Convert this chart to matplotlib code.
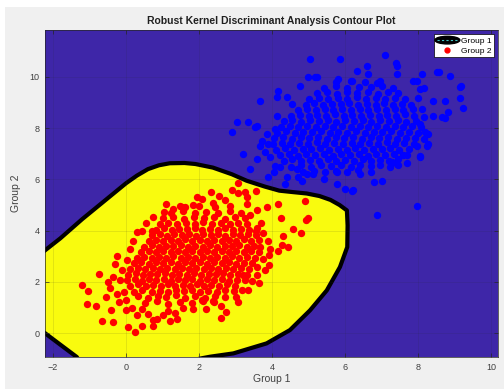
import numpy as np
import matplotlib.pyplot as plt
import matplotlib.patches as mpatches
from matplotlib.lines import Line2D
from matplotlib.legend_handler import HandlerPatch

plt.rcParams['font.family'] = ['Liberation Sans', 'DejaVu Sans']

# decision region boundary
bound_x = [-2.4, -2.22, -1.8, -1.2, -0.6, 0.0, 0.3, 0.6, 0.9, 1.2, 1.6, 1.9, 2.38, 2.9, 3.3,
           3.8, 4.2, 4.6, 4.95, 5.3, 5.6, 5.85, 6.05, 6.07, 6.06, 5.86, 5.5, 5.04, 4.49,
           3.85, 2.94, 2.3, 2.0, 1.6, -1.2, -1.35, -1.8, -2.22, -2.4]
bound_y = [3.02, 3.23, 3.7, 4.45, 5.15, 5.85, 6.15, 6.4, 6.55, 6.63, 6.64, 6.6, 6.46, 6.2, 5.95,
           5.72, 5.56, 5.5, 5.45, 5.35, 5.2, 5.0, 4.79, 4.2, 3.36, 2.58, 1.67, 0.89, 0.12,
           -0.4, -0.79, -0.92, -1.0, -1.3, -1.3, -0.93, -0.45, 0.0, 0.2]

# Group 2 (red) - dense part
red_core = [
    (0.52, 1.18), (0.86, 1.24), (1.15, 1.15), (1.47, 1.22), (1.8, 1.17), (2.1, 1.25), (2.42, 1.2),
    (0.33, 1.45), (0.6, 1.38), (0.88, 1.46), (1.1, 1.4), (1.36, 1.47), (1.62, 1.39), (1.9, 1.44),
    (2.15, 1.38), (2.43, 1.46), (2.7, 1.41),
    (0.22, 1.62), (0.45, 1.68), (0.7, 1.6), (0.92, 1.66), (1.15, 1.61), (1.36, 1.69), (1.58, 1.63),
    (1.8, 1.67), (2.02, 1.6), (2.25, 1.66), (2.48, 1.62), (2.72, 1.68), (2.96, 1.63),
    (0.12, 1.84), (0.33, 1.9), (0.55, 1.83), (0.74, 1.88), (0.95, 1.85), (1.14, 1.9), (1.34, 1.83),
    (1.55, 1.89), (1.74, 1.84), (1.94, 1.9), (2.14, 1.85), (2.34, 1.88), (2.55, 1.83), (2.76, 1.9),
    (2.98, 1.85),
    (0.02, 2.06), (0.24, 2.1), (0.44, 2.05), (0.63, 2.12), (0.83, 2.07), (1.03, 2.11), (1.22, 2.04),
    (1.42, 2.1), (1.62, 2.06), (1.82, 2.12), (2.02, 2.05), (2.22, 2.1), (2.42, 2.06), (2.62, 2.11),
    (2.83, 2.04), (3.05, 2.09), (3.26, 2.06),
    (0.05, 2.28), (0.26, 2.33), (0.46, 2.27), (0.66, 2.32), (0.86, 2.29), (1.06, 2.34), (1.26, 2.27),
    (1.46, 2.32), (1.66, 2.28), (1.86, 2.33), (2.06, 2.27), (2.26, 2.32), (2.46, 2.29), (2.66, 2.34),
    (2.86, 2.27), (3.07, 2.31), (3.3, 2.28),
    (0.12, 2.5), (0.33, 2.55), (0.53, 2.49), (0.73, 2.54), (0.93, 2.5), (1.13, 2.56), (1.33, 2.49),
    (1.53, 2.54), (1.73, 2.5), (1.93, 2.55), (2.13, 2.49), (2.33, 2.54), (2.53, 2.51), (2.73, 2.56),
    (2.93, 2.49), (3.14, 2.53), (3.38, 2.5),
    (0.22, 2.72), (0.42, 2.77), (0.62, 2.71), (0.82, 2.76), (1.02, 2.73), (1.22, 2.78), (1.42, 2.71),
    (1.62, 2.76), (1.82, 2.72), (2.02, 2.77), (2.22, 2.71), (2.42, 2.76), (2.62, 2.73), (2.82, 2.78),
    (3.02, 2.71), (3.22, 2.75), (3.45, 2.72),
    (0.3, 2.94), (0.5, 2.99), (0.7, 2.93), (0.9, 2.98), (1.1, 2.95), (1.3, 3.0), (1.5, 2.93),
    (1.7, 2.98), (1.9, 2.94), (2.1, 2.99), (2.3, 2.93), (2.5, 2.98), (2.7, 2.95), (2.9, 3.0),
    (3.1, 2.93), (3.3, 2.97), (3.52, 2.94),
    (0.42, 3.16), (0.62, 3.21), (0.82, 3.15), (1.02, 3.2), (1.22, 3.17), (1.42, 3.22), (1.62, 3.15),
    (1.82, 3.2), (2.02, 3.16), (2.22, 3.21), (2.42, 3.15), (2.62, 3.2), (2.82, 3.17), (3.02, 3.22),
    (3.22, 3.15), (3.42, 3.19), (3.64, 3.16),
    (0.5, 3.38), (0.7, 3.43), (0.9, 3.37), (1.1, 3.42), (1.3, 3.39), (1.5, 3.44), (1.7, 3.37),
    (1.9, 3.42), (2.1, 3.38), (2.3, 3.43), (2.5, 3.37), (2.7, 3.42), (2.9, 3.39), (3.1, 3.44),
    (3.3, 3.37), (3.5, 3.41), (3.68, 3.38),
    (0.62, 3.6), (0.82, 3.65), (1.02, 3.59), (1.22, 3.64), (1.42, 3.61), (1.62, 3.66), (1.82, 3.59),
    (2.02, 3.64), (2.22, 3.6), (2.42, 3.65), (2.62, 3.59), (2.82, 3.64), (3.02, 3.61), (3.22, 3.66),
    (3.42, 3.59), (3.65, 3.63),
    (0.72, 3.82), (0.92, 3.87), (1.12, 3.81), (1.32, 3.86), (1.52, 3.83), (1.72, 3.88), (1.92, 3.81),
    (2.12, 3.86), (2.32, 3.82), (2.52, 3.87), (2.72, 3.81), (2.92, 3.86), (3.12, 3.83), (3.33, 3.88),
    (3.56, 3.82),
    (0.82, 4.04), (1.04, 4.09), (1.25, 4.03), (1.46, 4.08), (1.67, 4.05), (1.88, 4.1), (2.09, 4.03),
    (2.3, 4.08), (2.51, 4.04), (2.72, 4.09), (2.93, 4.03), (3.14, 4.07), (3.36, 4.04), (3.58, 4.09),
    (0.92, 4.26), (1.16, 4.31), (1.4, 4.25), (1.64, 4.3), (1.88, 4.27), (2.12, 4.32), (2.36, 4.25),
    (2.6, 4.3), (2.84, 4.26), (3.08, 4.31), (3.32, 4.25),
    (1.02, 4.48), (1.3, 4.53), (1.58, 4.47), (1.86, 4.52), (2.14, 4.49), (2.42, 4.54), (2.7, 4.47),
    (2.98, 4.52), (3.26, 4.48),
    (1.22, 4.7), (1.55, 4.75), (1.88, 4.69), (2.2, 4.74), (2.52, 4.7), (2.84, 4.76), (3.16, 4.7),
    (1.62, 4.93), (2.0, 4.98), (2.45, 4.92), (2.85, 4.97),
]

# Group 2 (red) - sparse outer points
red_outer = [
    (-1.21, 1.87), (-1.06, 1.13), (-0.82, 1.05), (-0.74, 2.32), (-0.67, 0.48), (-0.35, 0.42),
    (-0.25, 3.0), (0.06, 0.25), (0.25, 0.05), (0.43, 0.28), (0.75, 0.27), (1.05, 4.72),
    (1.48, 4.98), (2.32, 5.5), (2.07, 5.24), (3.06, 5.85), (3.08, 1.22), (2.74, 0.83),
    (1.83, 0.93), (1.2, 0.48), (0.75, 0.5), (0.02, 2.84), (0.43, 4.0), (0.7, 4.0),
    (-1.03, 1.63), (-0.3, 2.7), (-0.35, 2.19), (-0.16, 2.06), (-0.25, 1.54), (3.56, 5.56),
    (4.9, 5.14), (4.99, 4.49), (4.93, 4.4), (4.58, 4.07), (4.78, 3.9), (4.29, 3.81),
    (4.45, 3.36), (4.27, 3.45), (4.16, 3.19), (4.17, 5.05), (4.24, 4.49), (3.85, 4.93),
    (3.93, 3.04), (3.93, 2.67), (3.81, 2.45), (3.58, 2.26), (3.63, 1.97), (3.26, 5.5),
    (3.3, 5.05), (3.17, 1.67), (3.21, 2.26), (2.71, 5.18), (3.08, 5.47), (3.3, 5.3),
    (1.84, 5.0), (2.37, 5.08), (2.39, 1.25), (2.07, 1.28), (1.16, 0.86), (0.84, 0.54),
    (1.52, 4.93), (-0.55, 1.4), (-0.45, 1.75), (-0.2, 1.2), (-0.05, 1.6), (0.0, 0.9),
    (0.15, 1.0), (-0.1, 2.45), (0.1, 3.3), (0.2, 3.6), (0.0, 1.3), (0.3, 0.7), (0.45, 0.95),
    (0.6, 0.75), (1.0, 0.7), (1.35, 0.8), (1.55, 1.0), (-0.4, 0.9), (-0.5, 2.0), (0.3, 3.95),
    (0.55, 4.3), (0.75, 4.55), (1.1, 5.05), (1.3, 4.85), (3.4, 4.6), (3.6, 4.8), (3.7, 4.3),
    (3.75, 3.9), (3.9, 3.6), (3.95, 3.3), (3.75, 2.9), (3.6, 2.6), (3.45, 2.05), (3.0, 1.4),
    (2.6, 1.05), (2.2, 0.95), (3.35, 1.7), (2.9, 5.6), (2.55, 5.35), (1.95, 5.3), (2.6, 0.6),
    (1.4, 0.55), (3.55, 4.0),
]

# Group 1 (blue) - dense part
blue_core = [
    (4.85, 6.28), (5.15, 6.34), (5.45, 6.27), (5.75, 6.33), (6.05, 6.29), (6.35, 6.35), (6.7, 6.3),
    (4.52, 6.5), (4.8, 6.56), (5.07, 6.49), (5.34, 6.55), (5.61, 6.51), (5.88, 6.57), (6.15, 6.5),
    (6.42, 6.55), (6.7, 6.51), (6.97, 6.56), (7.22, 6.5),
    (4.32, 6.72), (4.56, 6.78), (4.8, 6.71), (5.04, 6.77), (5.28, 6.73), (5.52, 6.79), (5.76, 6.72),
    (6.0, 6.77), (6.24, 6.73), (6.48, 6.78), (6.72, 6.71), (6.96, 6.76), (7.2, 6.73), (7.46, 6.78),
    (4.22, 6.94), (4.46, 6.99), (4.7, 6.93), (4.94, 6.98), (5.18, 6.95), (5.42, 7.0), (5.66, 6.93),
    (5.9, 6.98), (6.14, 6.94), (6.38, 6.99), (6.62, 6.93), (6.86, 6.98), (7.1, 6.95), (7.34, 7.0),
    (7.6, 6.94),
    (4.12, 7.16), (4.36, 7.21), (4.6, 7.15), (4.84, 7.2), (5.08, 7.17), (5.32, 7.22), (5.56, 7.15),
    (5.8, 7.2), (6.04, 7.16), (6.28, 7.21), (6.52, 7.15), (6.76, 7.2), (7.0, 7.17), (7.24, 7.22),
    (7.48, 7.15), (7.74, 7.19),
    (4.02, 7.38), (4.26, 7.43), (4.5, 7.37), (4.74, 7.42), (4.98, 7.39), (5.22, 7.44), (5.46, 7.37),
    (5.7, 7.42), (5.94, 7.38), (6.18, 7.43), (6.42, 7.37), (6.66, 7.42), (6.9, 7.39), (7.14, 7.44),
    (7.38, 7.37), (7.62, 7.41), (7.88, 7.38),
    (4.06, 7.6), (4.3, 7.65), (4.54, 7.59), (4.78, 7.64), (5.02, 7.61), (5.26, 7.66), (5.5, 7.59),
    (5.74, 7.64), (5.98, 7.6), (6.22, 7.65), (6.46, 7.59), (6.7, 7.64), (6.94, 7.61), (7.18, 7.66),
    (7.42, 7.59), (7.66, 7.63), (7.92, 7.6),
    (4.14, 7.82), (4.38, 7.87), (4.62, 7.81), (4.86, 7.86), (5.1, 7.83), (5.34, 7.88), (5.58, 7.81),
    (5.82, 7.86), (6.06, 7.82), (6.3, 7.87), (6.54, 7.81), (6.78, 7.86), (7.02, 7.83), (7.26, 7.88),
    (7.5, 7.81), (7.74, 7.85), (8.0, 7.82),
    (4.24, 8.04), (4.48, 8.09), (4.72, 8.03), (4.96, 8.08), (5.2, 8.05), (5.44, 8.1), (5.68, 8.03),
    (5.92, 8.08), (6.16, 8.04), (6.4, 8.09), (6.64, 8.03), (6.88, 8.08), (7.12, 8.05), (7.36, 8.1),
    (7.6, 8.03), (7.84, 8.07), (8.08, 8.04),
    (4.32, 8.26), (4.56, 8.31), (4.8, 8.25), (5.04, 8.3), (5.28, 8.27), (5.52, 8.32), (5.76, 8.25),
    (6.0, 8.3), (6.24, 8.26), (6.48, 8.31), (6.72, 8.25), (6.96, 8.3), (7.2, 8.27), (7.44, 8.32),
    (7.68, 8.25), (7.94, 8.29),
    (4.52, 8.48), (4.76, 8.53), (5.0, 8.47), (5.24, 8.52), (5.48, 8.49), (5.72, 8.54), (5.96, 8.47),
    (6.2, 8.52), (6.44, 8.48), (6.68, 8.53), (6.92, 8.47), (7.16, 8.52), (7.4, 8.49), (7.64, 8.54),
    (7.9, 8.48),
    (4.72, 8.7), (4.96, 8.75), (5.2, 8.69), (5.44, 8.74), (5.68, 8.71), (5.92, 8.76), (6.16, 8.69),
    (6.4, 8.74), (6.64, 8.7), (6.88, 8.75), (7.12, 8.69), (7.36, 8.74), (7.6, 8.71), (7.86, 8.75),
    (4.92, 8.92), (5.16, 8.97), (5.4, 8.91), (5.64, 8.96), (5.88, 8.93), (6.12, 8.98), (6.36, 8.91),
    (6.6, 8.96), (6.84, 8.92), (7.08, 8.97), (7.32, 8.91), (7.56, 8.95), (7.8, 8.92),
    (5.02, 9.14), (5.28, 9.19), (5.54, 9.13), (5.8, 9.18), (6.06, 9.15), (6.32, 9.2), (6.58, 9.13),
    (6.84, 9.18), (7.1, 9.14), (7.36, 9.19), (7.64, 9.13),
    (5.22, 9.36), (5.5, 9.41), (5.78, 9.35), (6.06, 9.4), (6.34, 9.37), (6.62, 9.42), (6.9, 9.35),
    (7.18, 9.4), (7.46, 9.36),
    (5.42, 9.58), (5.74, 9.63), (6.06, 9.57), (6.38, 9.62), (6.7, 9.59), (7.02, 9.64), (7.3, 9.58),
    (5.75, 9.8), (6.15, 9.85), (6.55, 9.79), (6.95, 9.84),
]

# Group 1 (blue) - sparse outer points
blue_outer = [
    (2.9, 7.86), (3.03, 8.23), (3.35, 8.25), (3.67, 9.07), (3.58, 8.09), (3.21, 6.99), (3.4, 6.41),
    (3.58, 6.8), (3.9, 6.09), (4.04, 6.28), (4.36, 5.82), (4.08, 6.54), (3.81, 7.07), (3.9, 7.38),
    (3.72, 7.51), (3.85, 7.77), (4.08, 7.96), (4.13, 8.48), (4.17, 9.46), (4.4, 9.2), (4.54, 8.94),
    (4.81, 5.95), (4.99, 9.98), (4.77, 9.65), (4.95, 6.21), (4.68, 6.41), (5.04, 10.69),
    (5.86, 10.69), (7.09, 10.84), (7.4, 10.56), (6.64, 10.1), (7.42, 10.43), (5.18, 9.98),
    (6.18, 9.84), (6.87, 9.78), (6.32, 10.23), (6.59, 10.43), (7.42, 10.1), (7.87, 9.84),
    (8.51, 10.21), (8.88, 10.04), (9.15, 9.61), (9.24, 8.78), (9.15, 9.17), (8.74, 8.39),
    (8.05, 6.89), (7.69, 6.97), (7.98, 4.98), (6.87, 4.63), (6.23, 5.59), (6.0, 5.63),
    (5.77, 5.82), (5.41, 6.01), (6.78, 5.89), (7.0, 5.95), (7.28, 6.67), (7.42, 6.6),
    (8.24, 7.32), (8.28, 7.77), (8.42, 9.07), (8.05, 9.52), (5.22, 9.98), (4.13, 9.2),
    (5.82, 9.91), (3.53, 8.03), (3.67, 7.32), (3.95, 6.86), (4.22, 6.47), (4.4, 6.08),
    (4.72, 6.08), (5.13, 6.21), (5.77, 6.28), (6.41, 6.21), (8.56, 10.19), (9.18, 9.63),
    (8.74, 9.07), (8.83, 8.64), (8.65, 8.42), (8.42, 8.48), (8.1, 10.1), (7.96, 9.84),
    (8.15, 9.55), (8.01, 9.16), (8.1, 8.74), (8.15, 8.42), (8.05, 8.15), (8.19, 7.83),
    (8.28, 7.38), (8.15, 7.57), (7.96, 7.32), (8.05, 6.93), (7.69, 6.64), (7.46, 6.56),
    (6.18, 5.56),
]

x_ticks = [-2, 0, 2, 4, 6, 8, 10]
y_ticks = [0, 2, 4, 6, 8, 10]

red = np.array(red_core + red_outer)
blue = np.array(blue_core + blue_outer)

bg_blue = '#3e26a8'
region_yellow = '#f9fb0e'

fig = plt.figure(figsize=(5.04, 3.89), dpi=100, facecolor='#f0f0f0')
fig.add_artist(mpatches.Rectangle((0, 0.982), 1, 0.02, transform=fig.transFigure,
                                  facecolor='white', edgecolor='none'))
fig.add_artist(mpatches.Rectangle((0, 0), 0.01, 1, transform=fig.transFigure,
                                  facecolor='white', edgecolor='none'))
ax = fig.add_axes([0.0893, 0.0823, 0.8988, 0.8406])
ax.set_facecolor(bg_blue)

ax.fill(bound_x, bound_y, facecolor=region_yellow, edgecolor='black', linewidth=3,
        joinstyle='round', zorder=1)
ax.scatter(blue[:, 0], blue[:, 1], s=28, c='#0000ff', linewidths=0, zorder=3)
ax.scatter(red[:, 0], red[:, 1], s=28, c='#ff0000', linewidths=0, zorder=3)

ax.set_xlim(-2.22, 10.19)
ax.set_ylim(-0.93, 11.83)
ax.set_xticks(x_ticks)
ax.set_yticks(y_ticks)
ax.grid(True, color='#262626', alpha=0.15, linewidth=0.5)
ax.set_axisbelow(False)
ax.tick_params(direction='in', length=3, width=0.5, top=True, right=True,
               labelsize=6.5, colors='#262626', labelcolor='#404040', pad=4)
for sp in ax.spines.values():
    sp.set_color('#262626')
    sp.set_linewidth(0.5)

ax.set_title('Robust Kernel Discriminant Analysis Contour Plot', fontsize=7.5,
             fontweight='bold', color='#202020', pad=4)
ax.set_xlabel('Group 1', fontsize=7.5, color='#404040', labelpad=2)
ax.set_ylabel('Group 2', fontsize=7.5, color='#404040', labelpad=6)


def ellipse_patch(legend, orig_handle, xdescent, ydescent, width, height, fontsize):
    return mpatches.Ellipse((width / 2 - xdescent, height / 2 - ydescent), width * 1.15, height * 1.1)


contour_handle = (mpatches.Ellipse((0, 0), 1, 1, facecolor='black', edgecolor='black'),
                  Line2D([], [], color='#40c0c0', linestyle=(0, (2, 2)), linewidth=0.8))
red_handle = Line2D([], [], marker='o', color='#ff0000', linestyle='none', markersize=3.5)
leg = ax.legend([contour_handle, red_handle], ['Group 1', 'Group 2'], loc='upper right',
                fontsize=6, frameon=True, fancybox=False, framealpha=1, edgecolor='black',
                handlelength=2.6, handleheight=0.9, borderpad=0.3, labelspacing=0.2,
                handletextpad=0.3, borderaxespad=0.5,
                handler_map={mpatches.Ellipse: HandlerPatch(patch_func=ellipse_patch)})
leg.get_frame().set_linewidth(0.5)
leg.set_zorder(5)

fig.savefig('out.png', dpi=100, facecolor=fig.get_facecolor())
